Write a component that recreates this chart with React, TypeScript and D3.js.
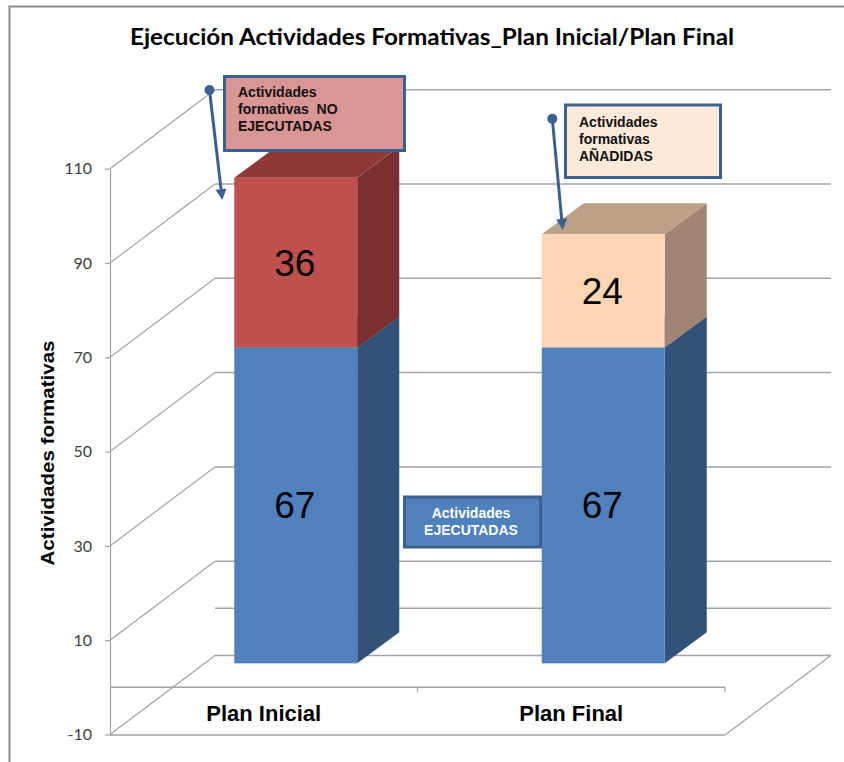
import { useEffect, useRef } from "react";
import * as d3 from "d3";

const WIDTH = 844;
const HEIGHT = 762;

const categories = ["Plan Inicial", "Plan Final"];
const ejecutadas = [67, 67];
const noEjecutadas = [36, 0];
const anadidas = [0, 24];
const yTicks = [-10, 10, 30, 50, 70, 90, 110];
const gridValues = [0, ...yTicks];

const TITLE = "Ejecución Actividades Formativas_Plan Inicial/Plan Final";
const Y_TITLE = "Actividades formativas";

// 3D projection of the chart box
const WALL = { dx: 105, dy: -79 };
const BAR_SHIFT = { dx: 32, dy: -24 };
const BAR_DEPTH = { dx: 42, dy: -31 };

const COLOR_GRID = "#a3a3a3";
const COLOR_FRAME = "#8c8c8c";
const COLOR_TICK_TEXT = "#404040";
const COLOR_CALLOUT = "#3a6090";

const seriesStyles: Record<string, { front: string; side: string; top: string }> = {
  ejecutadas: { front: "#4f81bd", side: "#325277", top: "#3e6594" },
  noEjecutadas: { front: "#c0504d", side: "#7b2f2f", top: "#8e3838" },
  anadidas: { front: "#fcd5b5", side: "#a08672", top: "#bda088" },
};

const callouts = [
  {
    box: [224.5, 76.5, 180, 74],
    fill: "#d99694",
    lines: ["Actividades", "formativas  NO", "EJECUTADAS"],
    textX: 238,
    textY: 97,
    anchor: "start",
    color: "#111",
    leader: [209.5, 90, 222.3, 200],
  },
  {
    box: [565.5, 105, 155, 72.5],
    fill: "#fde9d9",
    lines: ["Actividades", "formativas", "AÑADIDAS"],
    textX: 579,
    textY: 126.5,
    anchor: "start",
    color: "#111",
    leader: [552.3, 118.7, 562.7, 230],
  },
  {
    box: [404.5, 497, 136, 50],
    fill: "#4f81bd",
    lines: ["Actividades", "EJECUTADAS"],
    textX: 471,
    textY: 518,
    anchor: "middle",
    color: "#fff",
    leader: null,
  },
];

export default function App() {
  const svgRef = useRef<SVGSVGElement>(null);

  useEffect(() => {
    const svg = d3.select(svgRef.current);
    svg.selectAll("*").remove();

    const yScale = d3.scaleLinear().domain([-10, 110]).range([734.5, 168.7]);
    const xScale = d3
      .scaleBand<string>()
      .domain(categories)
      .range([110, 725])
      .paddingInner(0.6)
      .paddingOuter(0.3);

    const x0 = xScale.range()[0];
    const x1 = xScale.range()[1];

    // Chart frame
    svg
      .append("path")
      .attr("d", `M9.5,${HEIGHT} V6.5 H${WIDTH}`)
      .attr("fill", "none")
      .attr("stroke", COLOR_FRAME)
      .attr("stroke-width", 2);

    svg
      .append("text")
      .attr("x", 130)
      .attr("y", 45)
      .attr("font-family", "Lato")
      .attr("font-weight", "bold")
      .attr("font-size", 22)
      .attr("textLength", 604)
      .attr("lengthAdjust", "spacingAndGlyphs")
      .attr("fill", "#000")
      .text(TITLE);

    // Back wall gridlines and side wall diagonals
    gridValues.forEach((v) => {
      const y = yScale(v);
      svg
        .append("line")
        .attr("x1", x0 + WALL.dx)
        .attr("x2", x1 + WALL.dx + 1)
        .attr("y1", y + WALL.dy)
        .attr("y2", y + WALL.dy)
        .attr("stroke", COLOR_GRID)
        .attr("stroke-width", 1.5);
      if (v !== 0) {
        svg
          .append("line")
          .attr("x1", x0)
          .attr("x2", x0 + WALL.dx)
          .attr("y1", y)
          .attr("y2", y + WALL.dy)
          .attr("stroke", COLOR_GRID)
          .attr("stroke-width", 1.2);
      }
    });

    // Floor edges
    svg
      .append("line")
      .attr("x1", x1)
      .attr("x2", x1 + WALL.dx + 1)
      .attr("y1", yScale(-10) + 0.5)
      .attr("y2", yScale(-10) + WALL.dy)
      .attr("stroke", COLOR_GRID)
      .attr("stroke-width", 1.2);
    svg
      .append("line")
      .attr("x1", x0)
      .attr("x2", x1)
      .attr("y1", yScale(-10) + 0.5)
      .attr("y2", yScale(-10) + 0.5)
      .attr("stroke", COLOR_GRID)
      .attr("stroke-width", 1.5);

    // Y axis
    const yAxis = d3
      .axisLeft(yScale)
      .tickValues(yTicks)
      .tickSize(5)
      .tickSizeOuter(0)
      .tickPadding(13)
      .tickFormat((v) => String(v));
    const yAxisG = svg.append("g").attr("transform", `translate(${x0},0)`).call(yAxis);
    yAxisG.select(".domain").attr("stroke", COLOR_GRID).attr("stroke-width", 1.2);
    yAxisG.selectAll(".tick line").attr("stroke", COLOR_GRID).attr("stroke-width", 1.2);
    yAxisG
      .selectAll(".tick text")
      .attr("font-family", "Lato")
      .attr("font-size", 16)
      .attr("fill", COLOR_TICK_TEXT);

    svg
      .append("text")
      .attr("transform", "translate(54,453) rotate(-90)")
      .attr("text-anchor", "middle")
      .attr("font-family", "Liberation Sans")
      .attr("font-weight", "bold")
      .attr("font-size", 18)
      .attr("textLength", 225)
      .attr("lengthAdjust", "spacingAndGlyphs")
      .attr("fill", "#000")
      .text(Y_TITLE);

    // X axis at value 0
    const xAxisY = yScale(0);
    svg
      .append("line")
      .attr("x1", x0)
      .attr("x2", x1)
      .attr("y1", xAxisY)
      .attr("y2", xAxisY)
      .attr("stroke", COLOR_GRID)
      .attr("stroke-width", 1.5);
    const step = xScale.step();
    [1, 2].forEach((i) => {
      svg
        .append("line")
        .attr("x1", x0 + step * i)
        .attr("x2", x0 + step * i)
        .attr("y1", xAxisY)
        .attr("y2", xAxisY + 5)
        .attr("stroke", COLOR_GRID)
        .attr("stroke-width", 1.2);
    });

    const xAxis = d3.axisBottom(xScale).tickSize(0).tickSizeOuter(0).tickPadding(0);
    const xAxisG = svg.append("g").attr("transform", "translate(0,705)").call(xAxis);
    xAxisG.select(".domain").remove();
    xAxisG
      .selectAll(".tick text")
      .attr("font-family", "Liberation Sans")
      .attr("font-weight", "bold")
      .attr("font-size", 22)
      .attr("fill", "#000");

    // Stacked 3D bars
    const rows = categories.map((c, i) => ({
      category: c,
      ejecutadas: ejecutadas[i],
      noEjecutadas: noEjecutadas[i],
      anadidas: anadidas[i],
    }));
    const stacked = d3
      .stack<(typeof rows)[number]>()
      .keys(["ejecutadas", "noEjecutadas", "anadidas"])(rows);

    stacked.forEach((layer) => {
      const style = seriesStyles[layer.key];
      layer.forEach((seg, i) => {
        if (seg[1] === seg[0]) return;
        const left = (xScale(categories[i]) ?? 0) + BAR_SHIFT.dx;
        const right = left + xScale.bandwidth();
        const yTop = yScale(seg[1]) + BAR_SHIFT.dy;
        const yBottom = yScale(seg[0]) + BAR_SHIFT.dy;
        const { dx, dy } = BAR_DEPTH;

        // Side face
        svg
          .append("path")
          .attr(
            "d",
            `M${right},${yTop} L${right + dx},${yTop + dy} L${right + dx},${yBottom + dy} L${right},${yBottom} Z`,
          )
          .attr("fill", style.side);

        // Top face, only seen on the top segment
        svg
          .append("path")
          .attr(
            "d",
            `M${left},${yTop} L${left + dx},${yTop + dy} L${right + dx},${yTop + dy} L${right},${yTop} Z`,
          )
          .attr("fill", style.top);

        svg
          .append("rect")
          .attr("x", left)
          .attr("y", yTop)
          .attr("width", right - left)
          .attr("height", yBottom - yTop)
          .attr("fill", style.front);

        svg
          .append("text")
          .attr("x", (left + right) / 2 - 1)
          .attr("y", (yTop + yBottom) / 2 + 13)
          .attr("text-anchor", "middle")
          .attr("font-family", "Liberation Sans")
          .attr("font-size", 37)
          .attr("fill", "#000")
          .text(seg[1] - seg[0]);
      });
    });

    // Callouts
    callouts.forEach((c) => {
      const [bx, by, bw, bh] = c.box;
      svg
        .append("rect")
        .attr("x", bx)
        .attr("y", by)
        .attr("width", bw)
        .attr("height", bh)
        .attr("fill", c.fill)
        .attr("stroke", COLOR_CALLOUT)
        .attr("stroke-width", 3);

      c.lines.forEach((line, i) => {
        svg
          .append("text")
          .attr("x", c.textX)
          .attr("y", c.textY + i * 17)
          .attr("text-anchor", c.anchor)
          .attr("font-family", "Liberation Sans")
          .attr("font-weight", "bold")
          .attr("font-size", 14)
          .attr("fill", c.color)
          .style("white-space", "pre")
          .text(line);
      });

      if (c.leader) {
        const [lx0, ly0, lx1, ly1] = c.leader;
        const angle = Math.atan2(ly1 - ly0, lx1 - lx0);
        const back = 11;
        const half = 5.5;
        const bxm = lx1 - back * Math.cos(angle);
        const bym = ly1 - back * Math.sin(angle);
        const nx = -Math.sin(angle) * half;
        const ny = Math.cos(angle) * half;
        svg
          .append("line")
          .attr("x1", lx0)
          .attr("y1", ly0)
          .attr("x2", bxm)
          .attr("y2", bym)
          .attr("stroke", COLOR_CALLOUT)
          .attr("stroke-width", 3);
        svg.append("circle").attr("cx", lx0).attr("cy", ly0).attr("r", 5).attr("fill", COLOR_CALLOUT);
        svg
          .append("path")
          .attr("d", `M${lx1},${ly1} L${bxm + nx},${bym + ny} L${bxm - nx},${bym - ny} Z`)
          .attr("fill", COLOR_CALLOUT);
      }
    });
  }, []);

  return (
    <svg
      ref={svgRef}
      width={WIDTH}
      height={HEIGHT}
      viewBox={`0 0 ${WIDTH} ${HEIGHT}`}
      style={{ position: "absolute", left: 0, top: 0, display: "block", background: "#fff" }}
    />
  );
}
